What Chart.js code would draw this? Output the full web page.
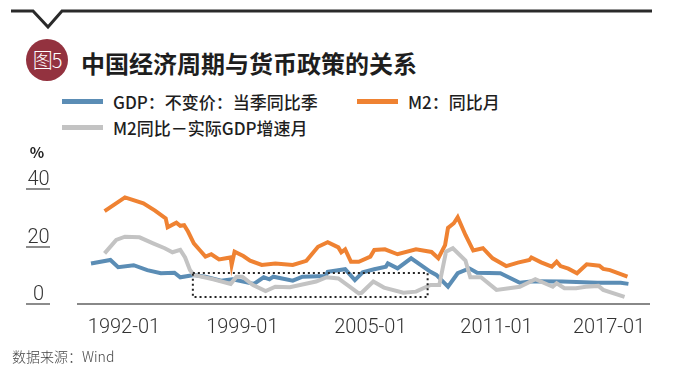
<!DOCTYPE html>
<html>
<head>
<meta charset="utf-8">
<script src="https://cdn.jsdelivr.net/npm/chart.js@4/dist/chart.umd.min.js"></script>
<style>
  html, body { margin: 0; padding: 0; background: #fff; }
  #wrap { position: relative; width: 673px; height: 376px; overflow: hidden; background: #fff; font-family: "Noto Sans CJK SC", sans-serif; }
  #wrap canvas { position: absolute; left: 0; top: 0; }
  .badge { position: absolute; left: 26px; top: 39px; width: 42px; height: 42px; border-radius: 50%; background: #93323f; color: #fff; font-size: 20px; line-height: 42px; text-align: center; font-weight: 300; letter-spacing: -1px; }
  .title { position: absolute; left: 81px; top: 51px; font-size: 24px; line-height: 24px; font-weight: 700; color: #1e1e1e; white-space: nowrap; }
  .lg { position: absolute; display: flex; align-items: center; font-size: 17px; font-weight: 500; color: #1e1e1e; white-space: nowrap; }
  .lg i { display: inline-block; width: 41px; height: 5px; margin-right: 10px; }
  .source { position: absolute; left: 12px; top: 347px; font-size: 14px; line-height: 18px; color: #444; font-weight: 300; }
</style>
</head>
<body>
<div id="wrap">
  <svg width="673" height="40" style="position:absolute;left:0;top:0">
    <polyline points="11,11 33,11 48,27 62,11 652,11" fill="none" stroke="#2a2a2a" stroke-width="3"/>
  </svg>
  <div class="badge">图5</div>
  <div class="title">中国经济周期与货币政策的关系</div>
  <div id="legend"></div>
  <canvas id="chart" width="673" height="376"></canvas>
  <div class="source">数据来源：Wind</div>
</div>
<script>
// ---- data ----
const gdpYear = [1990.3, 1991.3, 1991.7, 1992.5, 1993.2, 1993.9, 1994.6, 1994.9, 1995.6, 1996.2, 1997.0, 1997.6, 1998.7, 1999.2, 1999.5, 1999.7, 2000.7, 2001.2, 2002.4, 2002.5, 2003.4, 2003.9, 2004.3, 2004.9, 2005.5, 2005.6, 2006.1, 2006.8, 2007.8, 2008.1, 2008.7, 2009.2, 2009.8, 2010.2, 2011.4, 2012.4, 2013.1, 2014.6, 2016.4, 2017.6, 2018.0];
const gdpValue = [14.1, 15.3, 12.8, 13.5, 11.8, 10.7, 10.9, 9.3, 10.1, 9.5, 8.1, 8.6, 7.0, 9.3, 8.6, 9.5, 8.1, 9.5, 9.7, 11.2, 12.1, 8.3, 11.0, 12.1, 13.0, 14.1, 12.4, 15.9, 11.2, 10.1, 6.0, 10.7, 12.4, 10.9, 10.7, 7.4, 7.9, 7.8, 7.4, 7.4, 7.0];

const m2Year = [1991.0, 1992.05, 1993.0, 1993.6, 1994.15, 1994.25, 1994.7, 1994.9, 1995.1, 1995.3, 1995.6, 1995.9, 1996.2, 1996.5, 1996.9, 1997.5, 1997.55, 1997.7, 1998.15, 1998.5, 1999.1, 1999.8, 2000.7, 2001.4, 2002.0, 2002.5, 2003.05, 2003.2, 2003.4, 2003.7, 2004.1, 2004.7, 2004.9, 2005.45, 2006.1, 2007.05, 2007.85, 2008.2, 2008.55, 2008.7, 2009.0, 2009.2, 2009.6, 2010.0, 2010.5, 2011.0, 2011.7, 2012.3, 2012.9, 2013.0, 2013.5, 2014.05, 2014.3, 2014.5, 2014.9, 2015.35, 2015.85, 2016.5, 2016.7, 2017.05, 2017.95];
const m2Value = [32.3, 37.1, 35.0, 32.5, 29.8, 26.7, 28.3, 27.2, 27.4, 25.2, 21.1, 18.8, 16.5, 17.3, 15.5, 16.2, 13.6, 18.2, 16.7, 15.1, 13.6, 14.1, 13.6, 15.0, 19.9, 21.5, 19.7, 18.0, 19.0, 14.7, 14.7, 16.5, 18.8, 19.0, 17.3, 19.0, 18.1, 15.9, 20.5, 26.5, 28.1, 30.2, 24.0, 18.6, 19.4, 15.9, 13.2, 14.4, 15.3, 16.2, 14.5, 13.0, 14.7, 13.2, 12.3, 10.7, 13.8, 13.3, 12.2, 11.8, 9.5];

const gapYear = [1991.0, 1991.6, 1992.05, 1992.8, 1993.5, 1994.1, 1994.5, 1994.9, 1995.15, 1995.4, 1995.6, 1996.6, 1997.5, 1997.8, 1998.1, 1998.65, 1999.3, 1999.8, 2000.55, 2001.9, 2002.45, 2003.05, 2004.1, 2004.25, 2004.85, 2005.4, 2006.4, 2007.05, 2007.8, 2008.25, 2008.6, 2008.95, 2009.6, 2009.85, 2010.4, 2011.2, 2012.4, 2013.2, 2014.1, 2014.3, 2014.7, 2015.3, 2015.8, 2016.45, 2016.7, 2017.8];
const gapValue = [17.6, 22.3, 23.4, 23.2, 21.1, 19.4, 18.0, 18.8, 16.2, 11.8, 10.1, 8.6, 7.0, 9.5, 9.5, 6.6, 4.5, 6.0, 5.8, 7.8, 9.3, 8.9, 3.7, 3.9, 7.8, 5.7, 3.9, 4.3, 6.6, 6.6, 18.2, 19.4, 15.1, 9.3, 9.3, 4.9, 6.0, 8.6, 6.0, 7.2, 5.5, 5.5, 6.0, 6.3, 4.9, 2.5];

// dotted highlight box (years, %)
const boxYear = [1995.55, 2007.65];
const boxValue = [2.4, 10.8];

const xTickPos = [1992.0, 1998.1, 2004.7, 2011.2, 2017.0];
const xTickLabels = ['1992-01', '1999-01', '2005-01', '2011-01', '2017-01'];
const yTicks = [0, 20, 40];

const seriesNames = ['GDP：不变价：当季同比季', 'M2：同比月', 'M2同比－实际GDP增速月'];
const seriesColors = ['#5b8db5', '#ef8232', '#c3c3c3'];

// ---- legend (html) ----
const legendPos = [[62, 92], [357, 92], [62, 118]];
document.getElementById('legend').innerHTML = seriesNames.map((name, i) =>
    `<div class="lg" style="left:${legendPos[i][0]}px;top:${legendPos[i][1]}px;height:18px"><i style="background:${seriesColors[i]}"></i>${name}</div>`
).join('');

function pts(xs, ys) { return xs.map((x, i) => ({ x: x, y: ys[i] })); }

const boxPoints = [
    { x: boxYear[0], y: boxValue[1] }, { x: boxYear[1], y: boxValue[1] },
    { x: boxYear[1], y: boxValue[0] }, { x: boxYear[0], y: boxValue[0] },
    { x: boxYear[0], y: boxValue[1] }
];

// y labels with short underline, drawn left of the plot
const yAxisLabels = {
    id: 'yAxisLabels',
    afterDraw(chart) {
        const { ctx, scales: { y } } = chart;
        ctx.save();
        ctx.textAlign = 'center';
        ctx.fillStyle = '#222';
        ctx.font = 'bold 15px "Noto Sans CJK SC", sans-serif';
        ctx.fillText('%', 37, 158);
        ctx.font = '300 20px Roboto, sans-serif';
        ctx.fillStyle = '#333';
        yTicks.forEach(v => {
            const py = Math.round(y.getPixelForValue(v));
            ctx.strokeStyle = '#8c8c8c';
            ctx.lineWidth = 2;
            ctx.beginPath(); ctx.moveTo(26, py); ctx.lineTo(50, py); ctx.stroke();
            ctx.fillText(String(v), 38.5, py - 4);
        });
        ctx.restore();
    }
};

const lineStyle = { borderWidth: 4, pointRadius: 0, tension: 0, fill: false };

new Chart(document.getElementById('chart'), {
    type: 'line',
    data: {
        datasets: [
            { data: boxPoints, borderColor: '#222', borderWidth: 2, borderDash: [2, 3], pointRadius: 0, tension: 0, fill: false },
            { label: seriesNames[2], data: pts(gapYear, gapValue), borderColor: seriesColors[2], ...lineStyle },
            { label: seriesNames[1], data: pts(m2Year, m2Value), borderColor: seriesColors[1], ...lineStyle },
            { label: seriesNames[0], data: pts(gdpYear, gdpValue), borderColor: seriesColors[0], ...lineStyle }
        ]
    },
    options: {
        responsive: false,
        animation: false,
        devicePixelRatio: 1,
        layout: { padding: { left: 78, right: 24, top: 189, bottom: 24 } },
        plugins: { legend: { display: false }, tooltip: { enabled: false } },
        scales: {
            x: {
                type: 'linear',
                min: 1989.63,
                max: 2019.06,
                afterBuildTicks: (scale) => { scale.ticks = xTickPos.map(v => ({ value: v })); },
                ticks: {
                    autoSkip: false, maxRotation: 0, padding: 12, color: '#333',
                    font: { family: 'Roboto', weight: '300', size: 20, lineHeight: 1.2 },
                    callback: (value, index) => xTickLabels[index]
                },
                grid: { display: false, drawTicks: false },
                border: { display: true, color: '#888', width: 2 }
            },
            y: { display: false, min: 0, max: 40 }
        }
    },
    plugins: [yAxisLabels]
});
</script>
</body>
</html>
